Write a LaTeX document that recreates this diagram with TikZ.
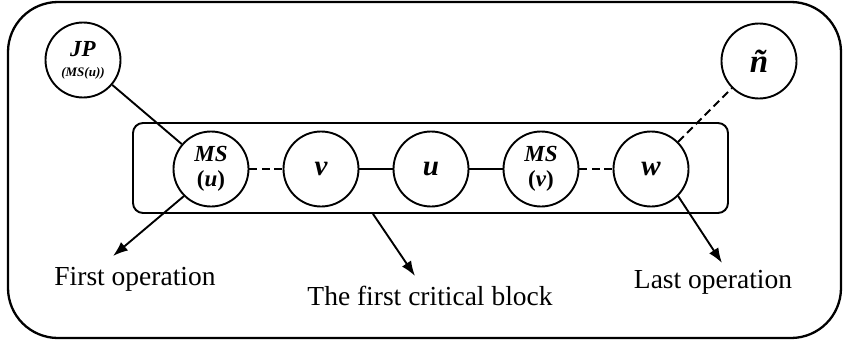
\documentclass[tikz,border=0pt]{standalone}
\usepackage{fontspec}
\setmainfont{Liberation Serif}
\usetikzlibrary{positioning}
\usetikzlibrary{arrows.meta}

\begin{document}
\begin{tikzpicture}
          [x=1pt, y=-1pt, line width=1.9pt,
           every node/.style={font=\fontsize{27.5}{30}\selectfont},
           op/.style={draw, circle, minimum size=75pt, inner sep=0pt, align=center,
             font=\fontsize{23}{25}\selectfont\bfseries\itshape},
           big/.style={font=\fontsize{29}{30}\selectfont\bfseries\itshape},
           dsh/.style={dash pattern=on 8pt off 4.5pt},
           arr/.style={-{Latex[length=15pt,width=11pt]}}]
          \useasboundingbox (0,0) rectangle (843,345);
          \draw[line width=2.3pt, rounded corners=50pt] (8,2) rectangle (841,338);
          \node (blk) [draw, rounded corners=10pt, minimum width=595pt, minimum height=90pt] at (430.5,168) {};

          \node (msu) [op] at (211,169) {MS\\\textup{(}u\textup{)}};
          \node (v) [op, big, right = 33.1pt of msu] {v};
          \node (u) [op, big, right = 33.1pt of v] {u};
          \node (msv) [op, right = 33.1pt of u] {MS\\\textup{(}v\textup{)}};
          \node (w) [op, big, right = 33.1pt of msv] {w};
          \node (jp) [op] at (83,60) {JP\\[-5pt]{\fontsize{13}{14}\selectfont(MS(u))}};
          \node (n) [op, font=\fontsize{33}{34}\selectfont\bfseries\itshape] at (759,61) {ñ};

          \node (first) [anchor=base] at (135,285) {First operation};
          \node (crit) [anchor=base] at (430,305) {The first critical block};
          \node (last) [anchor=base] at (713,288) {Last operation};
          \coordinate (fo) at (113,256);
          \coordinate (cb) at (415,276);
          \coordinate (lo) at (722,263);

          \draw (jp) -- (msu);
          \draw[dsh] (msu) -- (v);
          \draw (v) -- (u);
          \draw (u) -- (msv);
          \draw[dsh] (msv) -- (w);
          \draw[dsh] (w) -- (n);
          \draw[arr] (msu.-135) -- (fo);
          \draw[arr] ([xshift=-57.5pt]blk.south) -- (cb);
          \draw[arr] (w.-45) -- (lo);
        \end{tikzpicture}
\end{document}
